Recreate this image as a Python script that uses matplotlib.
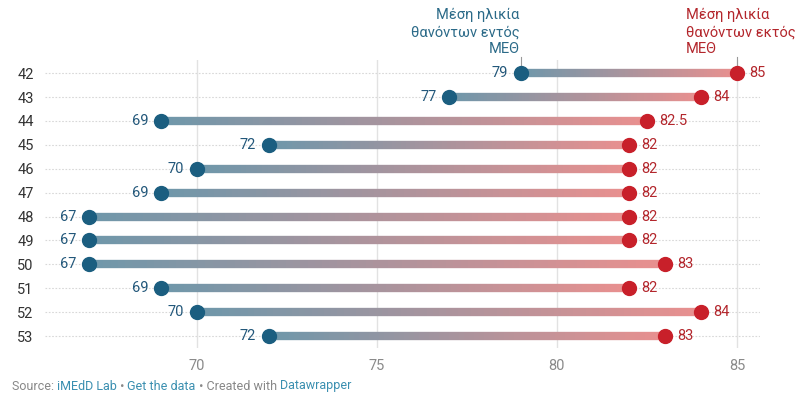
"""
Dumbbell chart: mean age of deaths inside vs outside ICU, by week
"""

import numpy as np
import matplotlib
matplotlib.use("Agg")
import matplotlib.pyplot as plt
from matplotlib.collections import LineCollection
from matplotlib.colors import LinearSegmentedColormap

# data
weeks = ["42", "43", "44", "45", "46", "47", "48", "49", "50", "51", "52", "53"]
age_in_icu = [79, 77, 69, 72, 70, 69, 67, 67, 67, 69, 70, 72]
age_out_icu = [85, 84, 82.5, 82, 82, 82, 82, 82, 83, 82, 84, 83]
x_ticks = [70, 75, 80, 85]

label_in = "Μέση ηλικία\nθανόντων εντός\nΜΕΘ"
label_out = "Μέση ηλικία\nθανόντων εκτός\nΜΕΘ"

BLUE_DOT = "#1b5e80"
RED_DOT = "#c8202a"
BLUE_TXT = "#22577a"
HEAD_BLUE = "#2b6a88"
RED_TXT = "#b3262c"
GRID = "#e2e2e2"
TEXT_GRAY = "#333333"

plt.rcParams['font.family'] = ['Roboto', 'DejaVu Sans']

fig = plt.figure(figsize=(8, 4), dpi=100)
ax = fig.add_axes([0.056, 0.13, 0.894, 0.72])

grad = LinearSegmentedColormap.from_list("grad", ["#6f97aa", "#e8908f"])

y_pos = np.arange(len(weeks))
for y, a, b in zip(y_pos, age_in_icu, age_out_icu):
    # gradient bar between the two dots
    xs = np.linspace(a, b, 80)
    pts = np.column_stack([xs, np.full_like(xs, y)])
    segs = np.stack([pts[:-1], pts[1:]], axis=1)
    lc = LineCollection(segs, colors=grad(np.linspace(0, 1, len(segs))),
                        linewidths=6, capstyle='butt', zorder=2)
    ax.add_collection(lc)

    ax.plot([a], [y], 'o', color=BLUE_DOT, markersize=10, zorder=3)
    ax.plot([b], [y], 'o', color=RED_DOT, markersize=10, zorder=3)

    ax.text(a - 0.35, y, f"{a:g}", color=BLUE_TXT, fontsize=10.5,
            ha='right', va='center', zorder=4)
    ax.text(b + 0.35, y, f"{b:g}", color=RED_TXT, fontsize=10.5,
            ha='left', va='center', zorder=4)

# dotted row guides
for y in y_pos:
    ax.axhline(y, color="#d8d8d8", lw=0.8, ls=(0, (1.5, 1.5)), zorder=0)

for xt in x_ticks:
    ax.axvline(xt, color=GRID, lw=1, zorder=1)

ax.set_xlim(65.78, 85.64)
ax.set_ylim(11.5, -0.55)
ax.set_xticks(x_ticks)
ax.set_yticks(y_pos)
ax.set_yticklabels(weeks)
ax.tick_params(axis='both', length=0)
ax.tick_params(axis='x', colors="#8a8a8a", labelsize=10.5, pad=8)
ax.tick_params(axis='y', colors=TEXT_GRAY, labelsize=10.5, pad=8)
for s in ax.spines.values():
    s.set_visible(False)

# header labels with small connectors
ax.text(age_in_icu[0] - 0.03, -0.72, label_in, color=HEAD_BLUE, fontsize=10.5,
        ha='right', va='bottom', linespacing=1.25, clip_on=False)
ax.plot([age_in_icu[0], age_in_icu[0]], [-0.68, -0.35], color="#999999", lw=0.8,
        clip_on=False, zorder=1)
ax.text(age_out_icu[0] - 1.42, -0.72, label_out, color=RED_TXT, fontsize=10.5,
        ha='left', va='bottom', linespacing=1.25, clip_on=False)
ax.plot([age_out_icu[0], age_out_icu[0]], [-0.68, -0.35], color="#999999", lw=0.8,
        clip_on=False, zorder=1)

# footer built from coloured pieces
pieces = [("Source: ", "#888888"), ("iMEdD Lab", "#3a8fb0"), (" • ", "#888888"),
          ("Get the data", "#3a8fb0"), (" • Created with ", "#888888"),
          ("Datawrapper", "#3a8fb0")]
renderer = fig.canvas.get_renderer()
x0 = 12 / 800
for txt, col in pieces:
    t = fig.text(x0, 1 - 386 / 400, txt, color=col, fontsize=9, va='center', ha='left')
    bb = t.get_window_extent(renderer=renderer)
    x0 += bb.width / fig.bbox.width

fig.savefig("out.png", dpi=100, facecolor="white")
